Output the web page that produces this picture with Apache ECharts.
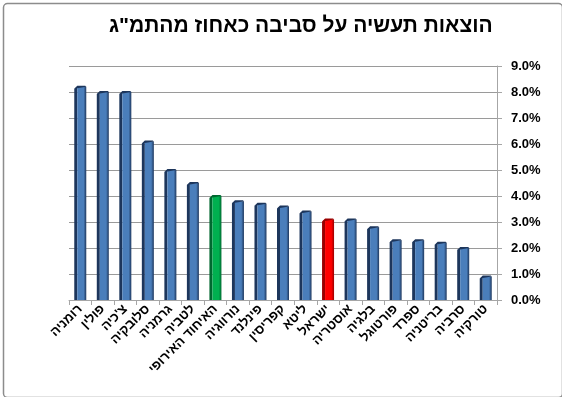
<!DOCTYPE html>
<html><head><meta charset="utf-8">
<script src="https://cdn.jsdelivr.net/npm/echarts@6/dist/echarts.min.js"></script>
<style>html,body{margin:0;padding:0;background:#fff}#c{width:562px;height:397px}</style>
</head><body><div id="c"></div>
<script>
const titleText = 'הוצאות תעשיה על סביבה כאחוז מהתמ"ג';
const categories = ['רומניה','פולין',"צ'כיה",'סלובקיה','גרמניה','לטביה','האיחוד האירופי','נורווגיה','פינלנד','קפריסין','ליטא','ישראל','אוסטריה','בלגיה','פורטוגל','ספרד','בריטניה','סרביה','טורקיה'];
const values = [8.2, 8.0, 8.0, 6.1, 5.0, 4.5, 4.0, 3.8, 3.7, 3.6, 3.4, 3.1, 3.1, 2.8, 2.3, 2.3, 2.2, 2.0, 0.9];
const yTicks = [0,1,2,3,4,5,6,7,8,9];

// styles
const palette = {
  normal: {front:'#4A7EBB', side:'#1D365C', top:'#6E98CC'},
  'האיחוד האירופי': {front:'#00B050', side:'#006830', top:'#40C878'},
  'ישראל': {front:'#FF0000', side:'#9A0000', top:'#FF5050'}
};
const FONT = 'Arial, "Liberation Sans", "DejaVu Sans", sans-serif';

const chart = echarts.init(document.getElementById('c'), null, {renderer:'canvas'});
chart.setOption({
  backgroundColor:'#fff',
  animation:false,
  graphic:[{type:'rect', left:1, top:1, shape:{width:559, height:394, r:4}, style:{fill:'none', stroke:'#8C8C8C', lineWidth:1.5}, silent:true}],
  title:{text:titleText, left:104, top:11, textStyle:{fontFamily:FONT, fontSize:21, fontWeight:'bold', color:'#000'}},
  grid:{left:69, right:65, top:66, bottom:97},
  xAxis:{type:'category', data:categories,
    axisLine:{show:true, lineStyle:{color:'#A6A6A6', width:1}},
    axisTick:{show:true, length:5, lineStyle:{color:'#A6A6A6'}},
    axisLabel:{interval:0, rotate:45, margin:7, fontFamily:FONT, fontSize:13, fontWeight:'bold', color:'#000'}},
  yAxis:{type:'value', position:'right', min:yTicks[0], max:yTicks[yTicks.length-1], interval:1,
    axisLine:{show:true, lineStyle:{color:'#A6A6A6'}},
    axisTick:{show:true, length:5, lineStyle:{color:'#A6A6A6'}},
    splitLine:{show:true, lineStyle:{color:'#9A9A9A', width:1}},
    axisLabel:{margin:14, formatter:v=>v.toFixed(1)+'%', fontFamily:FONT, fontSize:13, fontWeight:'bold', color:'#000'}},
  series:[{type:'custom', data:values.map((v,i)=>[i,v]),
    renderItem:function(params, api){
      const i = api.value(0), v = api.value(1);
      const top = api.coord([i, v]);
      const base = api.coord([i, 0]);
      const cx = top[0];
      const c = palette[categories[i]] || palette.normal;
      const L = cx - 6, S = 3, R = cx + 6;
      const t = top[1], b = base[1];
      return {type:'group', children:[
        {type:'polygon', shape:{points:[[L,t+2],[L+S,t],[L+S,b],[L,b]]}, style:{fill:c.side}},
        {type:'rect', shape:{x:L+S, y:t, width:R-L-S, height:b-t},
          style:{fill:new echarts.graphic.LinearGradient(0,0,1,0,[{offset:0,color:c.front},{offset:0.7,color:c.front},{offset:1,color:c.side}])}},
        {type:'polygon', shape:{points:[[L,t+2],[L+S,t-1],[R-1,t-1],[R,t]]}, style:{fill:c.side}}
      ]};
    }
  }]
});
</script></body></html>
